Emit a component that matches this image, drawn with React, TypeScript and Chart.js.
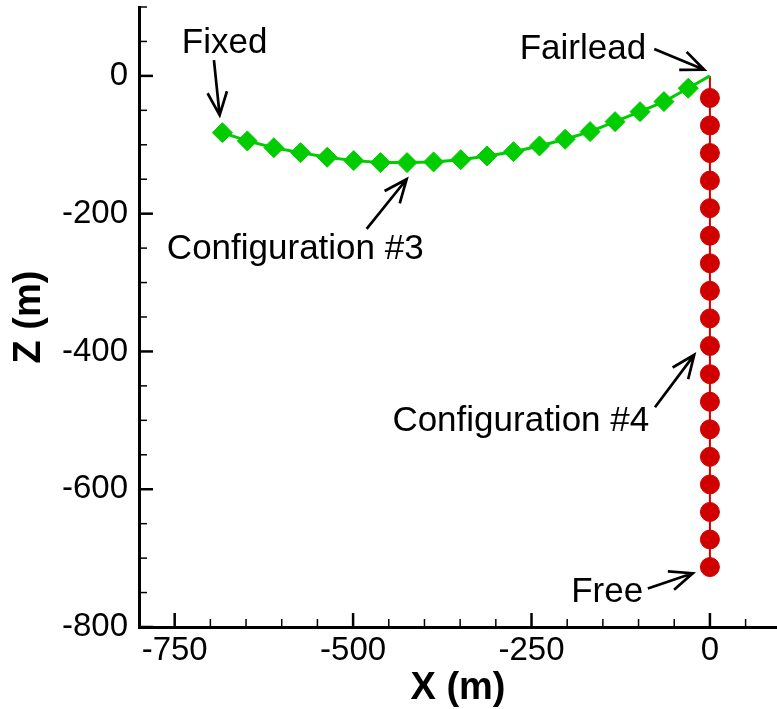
import React, { useEffect, useRef } from 'react';
import { Chart, registerables } from 'chart.js';

Chart.register(...registerables);

// Configuration #3 (green diamonds) – catenary from fixed anchor to fairlead
const config3X = [-683.2, -648.2, -611.0, -573.7, -536.3, -499.1, -461.7, -424.4, -387.2, -349.1, -312.4, -275.2, -238.8, -202.9, -167.9, -132.9, -97.9, -64.4, -30.4, 0];
const config3Z = [-82.4, -94.4, -104.2, -111.4, -118.1, -123.0, -125.9, -125.9, -124.9, -121.6, -116.2, -110.0, -101.7, -92.0, -80.9, -66.4, -51.9, -37.3, -17.9, 0];

// Configuration #4 (red circles) – hanging vertically from the fairlead
const config4X = [0, 0, 0, 0, 0, 0, 0, 0, 0, 0, 0, 0, 0, 0, 0, 0, 0, 0, 0];
const config4Z = [0, -32, -72, -112, -152, -192, -232, -272, -312, -352, -392, -433, -473, -513, -553, -593, -633, -673, -713];

// Axis ticks
const xTickValues = [-750, -500, -250, 0];
const xMinorTicks = [-700, -650, -600, -550, -450, -400, -350, -300, -200, -150, -100, -50, 50];
const yTickValues = [-800, -600, -400, -200, 0];
const yMinorTicks = [-750, -700, -650, -550, -500, -450, -350, -300, -250, -150, -100, -50, 50, 100];

// Annotations (data coordinates)
const annotationLabels = ['Fixed', 'Fairlead', 'Configuration #3', 'Configuration #4', 'Free'];
const labelX = [-680, -178, -581, -265, -144];
const labelZ = [47.5, 38.5, -252.5, -501.5, -749.5];
const arrowFromX = [-695, -78, -481, -77, -87];
const arrowFromZ = [23, 39, -222, -481, -744];
const arrowToX = [-687, -8, -425, -22, -24];
const arrowToZ = [-57, 9, -150, -405, -722];

const FONT = "'Liberation Sans', Arial, Helvetica, sans-serif";
const GREEN = '#00cc00';
const RED = '#d00000';

const overlayPlugin = {
  id: 'overlay',
  afterDatasetsDraw(chart: any) {
    const { ctx, chartArea } = chart;
    const xs = chart.scales.x;
    const ys = chart.scales.y;
    ctx.save();
    ctx.strokeStyle = '#000';
    ctx.lineCap = 'butt';
    const drawY = (v: number, len: number, w: number) => {
      const p = ys.getPixelForValue(v);
      ctx.lineWidth = w;
      ctx.beginPath();
      ctx.moveTo(chartArea.left, p);
      ctx.lineTo(chartArea.left + len, p);
      ctx.stroke();
    };
    const drawX = (v: number, len: number, w: number) => {
      const p = xs.getPixelForValue(v);
      ctx.lineWidth = w;
      ctx.beginPath();
      ctx.moveTo(p, chartArea.bottom);
      ctx.lineTo(p, chartArea.bottom - len);
      ctx.stroke();
    };
    yTickValues.forEach((v) => drawY(v, 14, 2.5));
    yMinorTicks.forEach((v) => drawY(v, 8, 1.5));
    xTickValues.forEach((v) => drawX(v, 14, 2.5));
    xMinorTicks.forEach((v) => drawX(v, 8, 1.5));

    // arrows
    ctx.lineWidth = 2.7;
    ctx.lineJoin = 'miter';
    for (let i = 0; i < annotationLabels.length; i++) {
      const x1 = xs.getPixelForValue(arrowFromX[i]);
      const y1 = ys.getPixelForValue(arrowFromZ[i]);
      const x2 = xs.getPixelForValue(arrowToX[i]);
      const y2 = ys.getPixelForValue(arrowToZ[i]);
      const ang = Math.atan2(y2 - y1, x2 - x1);
      const hl = 25;
      const ha = 0.4;
      ctx.beginPath();
      ctx.moveTo(x1, y1);
      ctx.lineTo(x2, y2);
      ctx.moveTo(x2 - hl * Math.cos(ang - ha), y2 - hl * Math.sin(ang - ha));
      ctx.lineTo(x2, y2);
      ctx.lineTo(x2 - hl * Math.cos(ang + ha), y2 - hl * Math.sin(ang + ha));
      ctx.stroke();
    }

    // labels
    ctx.fillStyle = '#000';
    ctx.font = `35px ${FONT}`;
    ctx.textAlign = 'center';
    ctx.textBaseline = 'middle';
    for (let i = 0; i < annotationLabels.length; i++) {
      ctx.fillText(annotationLabels[i], xs.getPixelForValue(labelX[i]), ys.getPixelForValue(labelZ[i]));
    }
    ctx.restore();
  },
};

export default function App() {
  const canvasRef = useRef<HTMLCanvasElement | null>(null);

  useEffect(() => {
    const canvas = canvasRef.current;
    if (!canvas) return;
    const green = config3X.map((x, i) => ({ x, y: config3Z[i] }));
    const red = config4X.map((x, i) => ({ x, y: config4Z[i] }));
    const chart = new Chart(canvas, {
      type: 'scatter',
      data: {
        datasets: [
          {
            label: 'Configuration #3',
            data: green,
            showLine: true,
            borderColor: GREEN,
            backgroundColor: GREEN,
            borderWidth: 3,
            pointStyle: 'rectRot',
            pointRadius: green.map((_, i) => (i === green.length - 1 ? 0 : 10)),
            pointBorderWidth: 1,
            pointBorderColor: GREEN,
            pointBackgroundColor: GREEN,
          },
          {
            label: 'Configuration #4',
            data: red,
            showLine: true,
            borderColor: RED,
            backgroundColor: RED,
            borderWidth: 2,
            pointStyle: 'circle',
            pointRadius: red.map((_, i) => (i === 0 ? 0 : 9.5)),
            pointBorderWidth: 1,
            pointBorderColor: RED,
            pointBackgroundColor: RED,
          },
        ],
      },
      options: {
        animation: false,
        responsive: false,
        devicePixelRatio: 1,
        events: [],
        layout: { autoPadding: false, padding: { top: 7, left: 0, right: 0, bottom: 0 } },
        plugins: { legend: { display: false }, tooltip: { enabled: false } },
        scales: {
          x: {
            type: 'linear',
            position: 'bottom',
            min: -800,
            max: 94,
            grid: { display: false, drawTicks: false, drawOnChartArea: false },
            border: { display: true, color: '#000', width: 3 },
            ticks: {
              color: '#000',
              font: { family: FONT, size: 33 },
              padding: 4,
              maxRotation: 0,
              autoSkip: false,
              callback: (v: any) => String(v),
            },
            title: {
              display: true,
              text: 'X (m)',
              color: '#000',
              font: { family: FONT, size: 38, weight: 'bold' },
              padding: { top: 0, bottom: -2 },
            },
            afterBuildTicks: (scale: any) => {
              scale.ticks = xTickValues.map((v) => ({ value: v }));
            },
            afterFit: (scale: any) => {
              scale.height = 82;
              scale.paddingLeft = 0;
              scale.paddingRight = 0;
              scale.paddingTop = 0;
              scale.paddingBottom = 0;
            },
          },
          y: {
            type: 'linear',
            position: 'left',
            min: -800,
            max: 100,
            grid: { display: false, drawTicks: false, drawOnChartArea: false },
            border: { display: true, color: '#000', width: 3 },
            ticks: {
              color: '#000',
              font: { family: FONT, size: 33 },
              padding: 11,
              autoSkip: false,
              callback: (v: any) => String(v),
            },
            title: {
              display: true,
              text: 'Z (m)',
              color: '#000',
              font: { family: FONT, size: 38, weight: 'bold' },
              padding: { top: 7, bottom: 0 },
            },
            afterBuildTicks: (scale: any) => {
              scale.ticks = yTickValues.map((v) => ({ value: v }));
            },
            afterFit: (scale: any) => {
              scale.width = 139;
              scale.paddingLeft = 0;
              scale.paddingRight = 0;
              scale.paddingTop = 0;
              scale.paddingBottom = 0;
            },
          },
        },
      } as any,
      plugins: [overlayPlugin],
    });
    return () => chart.destroy();
  }, []);

  return (
    <div style={{ position: 'absolute', left: 0, top: 0, width: 777, height: 709, background: '#fff' }}>
      <canvas ref={canvasRef} width={777} height={709} style={{ display: 'block', width: 777, height: 709 }} />
    </div>
  );
}
